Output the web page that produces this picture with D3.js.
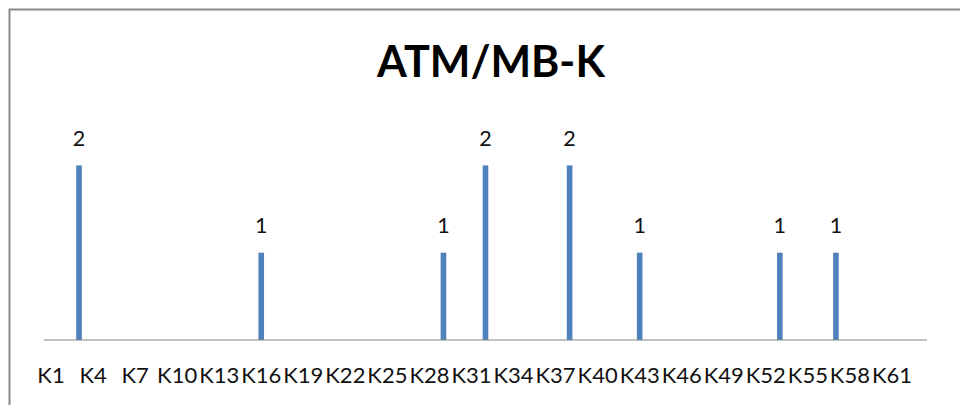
<!DOCTYPE html>
<html>
<head>
<meta charset="utf-8">
<script src="https://cdn.jsdelivr.net/npm/d3@7"></script>
<style>
  html, body { margin: 0; padding: 0; background: #fff; }
  svg { display: block; }
</style>
</head>
<body>
<svg id="chart" width="960" height="405"></svg>
<script>
const title = "ATM/MB-K";
const categories = [
  "K1","K2","K3","K4","K5","K6","K7","K8","K9","K10",
  "K11","K12","K13","K14","K15","K16","K17","K18","K19","K20",
  "K21","K22","K23","K24","K25","K26","K27","K28","K29","K30",
  "K31","K32","K33","K34","K35","K36","K37","K38","K39","K40",
  "K41","K42","K43","K44","K45","K46","K47","K48","K49","K50",
  "K51","K52","K53","K54","K55","K56","K57","K58","K59","K60",
  "K61","K62","K63"
];
const barCategories = ["K3","K16","K29","K32","K38","K43","K53","K57"];
const barValues     = [2, 1, 1, 2, 2, 1, 1, 1];
const tickLabels = ["K1","K4","K7","K10","K13","K16","K19","K22","K25","K28","K31",
                    "K34","K37","K40","K43","K46","K49","K52","K55","K58","K61"];
const yDomain = [0, 2.5];

const data = barCategories.map((c, i) => ({ cat: c, value: barValues[i] }));

const svg = d3.select("#chart");
const W = 960, H = 405;
const plot = { left: 44, right: 927, top: 121.75, bottom: 340 };
const font = "Lato, 'Open Sans', sans-serif";

// chart area border (cropped at right / bottom)
svg.append("rect")
  .attr("x", 9.5).attr("y", 9.5)
  .attr("width", W + 20).attr("height", H + 20)
  .attr("fill", "#fff")
  .attr("stroke", "#8a8a8a")
  .attr("stroke-width", 2);

const x = d3.scaleBand()
  .domain(categories)
  .range([plot.left, plot.right])
  .paddingInner(0.6)
  .paddingOuter(0.3);

const y = d3.scaleLinear().domain(yDomain).range([plot.bottom, plot.top]);

// title
svg.append("text")
  .attr("x", 491).attr("y", 77)
  .attr("text-anchor", "middle")
  .style("font-family", font)
  .style("font-weight", "bold")
  .style("font-size", "43px")
  .attr("fill", "#000")
  .text(title);

// bars
svg.append("g").selectAll("rect")
  .data(data)
  .join("rect")
  .attr("x", d => x(d.cat))
  .attr("width", x.bandwidth())
  .attr("y", d => y(d.value))
  .attr("height", d => y(0) - y(d.value))
  .attr("fill", "#4F81BD");

// data labels
svg.append("g").selectAll("text")
  .data(data)
  .join("text")
  .attr("x", d => x(d.cat) + x.bandwidth() / 2)
  .attr("y", d => y(d.value) - 19.5)
  .attr("text-anchor", "middle")
  .style("font-family", font)
  .style("font-size", "21.5px")
  .attr("fill", "#111")
  .text(d => d.value);

// x axis
const xAxis = d3.axisBottom(x)
  .tickValues(tickLabels)
  .tickSize(0)
  .tickPadding(27.5);

const gx = svg.append("g")
  .attr("transform", `translate(0,${plot.bottom})`)
  .call(xAxis);
gx.select(".domain")
  .attr("stroke", "#868686")
  .attr("stroke-width", 1.2)
  .attr("d", `M${plot.left},0H${plot.right}`);
gx.selectAll("text")
  .style("font-family", font)
  .style("font-size", "22px")
  .attr("fill", "#111");
</script>
</body>
</html>
